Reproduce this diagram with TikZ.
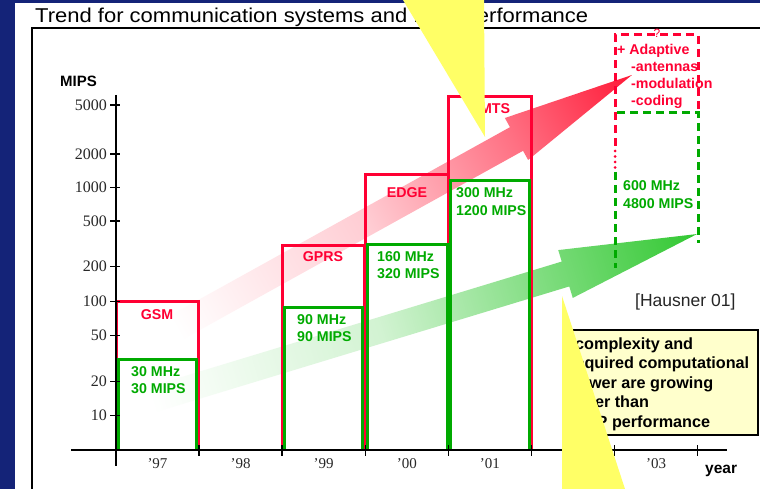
\documentclass[tikz,border=0pt]{standalone}
\usepackage{fontspec}
\setmainfont{Liberation Sans}
\newfontfamily\serifnum{Liberation Serif}
\newfontfamily\titlefont[FakeStretch=1.1]{Liberation Sans}

\definecolor{navy}{RGB}{20,35,120}
\definecolor{trendred}{RGB}{255,0,51}
\definecolor{trendgreen}{RGB}{0,170,0}
\definecolor{arrowred}{RGB}{255,25,55}
\definecolor{arrowgreen}{RGB}{50,200,50}
\definecolor{wedge}{RGB}{255,255,102}
\definecolor{note}{RGB}{255,255,204}
\definecolor{axisnum}{RGB}{40,40,40}

% fades from white at the tail to full colour at the tip
\pgfdeclarehorizontalshading{redtrend}{100bp}{color(0bp)=(white); color(25bp)=(white);
  color(46bp)=(arrowred!22!white); color(62bp)=(arrowred!62!white);
  color(75bp)=(arrowred); color(100bp)=(arrowred)}
\pgfdeclarehorizontalshading{greentrend}{100bp}{color(0bp)=(white); color(25bp)=(white);
  color(46bp)=(arrowgreen!22!white); color(63bp)=(arrowgreen!68!white);
  color(75bp)=(arrowgreen); color(100bp)=(arrowgreen)}

\begin{document}
\begin{tikzpicture}[x=1pt,y=-1pt,
  lbl/.style={inner sep=0, font=\fontsize{14.2}{16}\selectfont\bfseries},
  redlbl/.style={lbl, text=trendred},
  greenlbl/.style={lbl, text=trendgreen, anchor=base west},
  redbar/.style={draw=trendred, line width=3pt},
  greenbar/.style={draw=trendgreen, line width=3pt},
  numlbl/.style={inner sep=0, anchor=base east, text=axisnum, font=\serifnum\fontsize{16}{18}\selectfont},
  yearlbl/.style={inner sep=0, anchor=base, text=axisnum, font=\serifnum\fontsize{15}{18}\selectfont},
  notetxt/.style={inner sep=0, anchor=base west, font=\fontsize{16.2}{18}\selectfont\bfseries}]
\useasboundingbox (0,0) rectangle (760,489);

% slide background
\fill[white] (0,0) rectangle (760,489);
\fill[navy] (0,0) rectangle (15,489);
\fill[navy] (0,0) rectangle (760,3);
\draw[line width=2pt] (32,489) -- (32,28) -- (760,28);
\node[inner sep=0, anchor=base west, font=\titlefont\fontsize{20}{24}\selectfont] (title) at (35,23)
  {Trend for communication systems and DSP performance};

% trend arrows
\begin{scope}[transform canvas={shift={(516.5pt,-139pt)},rotate=29}]
  \shade[shading=redtrend] (-390,-13.5) -- (0,-13.5) -- (0,-24) -- (132,0) -- (0,24) -- (0,13.5) -- (-390,13.5) -- cycle;
\end{scope}
\begin{scope}[transform canvas={shift={(565.5pt,-274pt)},rotate=16.9}]
  \shade[shading=greentrend] (-434,-13) -- (0,-13) -- (0,-25) -- (137.5,0) -- (0,25) -- (0,13) -- (-434,13) -- cycle;
\end{scope}

% systems (red) and their processing needs (green)
\draw[redbar] (116,450) |- (198,301) -- (198,450);
\draw[redbar] (282,450) |- (364,245) -- (364,450);
\draw[redbar] (365,450) |- (448,175) -- (448,450);
\draw[redbar] (448,450) |- (531,97) -- (531,450);
\draw[greenbar] (118,450) |- (196,359) -- (196,450);
\draw[greenbar] (284,450) |- (362,307) -- (362,450);
\draw[greenbar] (367,450) |- (447,244) -- (447,450);
\draw[greenbar] (450,450) |- (529,181) -- (529,450);

% future system
\draw[redbar, dash pattern=on 8pt off 5pt] (615,146) -- (615,35) -- (698,35) -- (698,112);
\draw[redbar, dash pattern=on 0pt off 5.5pt, line cap=round] (615,151) -- (615,168);
\draw[greenbar, dash pattern=on 8pt off 5pt] (617,113) -- (698,113) -- (698,243);
\draw[greenbar, dash pattern=on 8pt off 5pt] (615,172) -- (615,268);

% labels
\node[redlbl, anchor=base] (gsm) at (157,319) {GSM};
\node[greenlbl] (gsmmhz) at (131,376) {30 MHz};
\node[greenlbl] (gsmmips) at (131,393) {30 MIPS};
\node[redlbl, anchor=base] (gprs) at (323,261) {GPRS};
\node[greenlbl] (gprsmhz) at (297,324) {90 MHz};
\node[greenlbl] (gprsmips) at (297,341) {90 MIPS};
\node[redlbl, anchor=base] (edge) at (407,197) {EDGE};
\node[greenlbl] (edgemhz) at (377,261) {160 MHz};
\node[greenlbl] (edgemips) at (377,278) {320 MIPS};
\node[redlbl, anchor=base] (umts) at (490,114) {UMTS};
\node[greenlbl] (umtsmhz) at (456,198) {300 MHz};
\node[greenlbl] (umtsmips) at (456,215) {1200 MIPS};
\node[greenlbl] (nextmhz) at (623,191) {600 MHz};
\node[greenlbl] (nextmips) at (623,208) {4800 MIPS};
\node[inner sep=0, anchor=base, text=trendred, font=\fontsize{12}{14}\selectfont] (unknown) at (657,38) {?};
\node[redlbl, anchor=base west] (adaptive) at (617,55) {+ Adaptive};
\node[redlbl, anchor=base west] (antennas) at (631,72) {-antennas};
\node[redlbl, anchor=base west] (modulation) at (631,89) {-modulation};
\node[redlbl, anchor=base west] (coding) at (631,106) {-coding};

% axes
\draw[line width=1.5pt] (116,95) -- (116,466);
\draw[line width=1.5pt] (71,450) -- (727,450);
\foreach \v/\y in {5000/105,2000/154,1000/187.7,500/221,200/266.7,100/301.7,50/335.7,20/381.7,10/415.7}{
  \draw[line width=1.5pt] (110,\y) -- (120,\y);
  \node[numlbl] at (107,\y+5.2) {\v};
}
\foreach \k in {1,...,7}{
  \draw[line width=1.5pt] (116+83.1*\k,445) -- (116+83.1*\k,456);
}
\foreach \yr [count=\k from 0] in {97,98,99,00,01,02,03}{
  \node[yearlbl] at (157.5+83.1*\k,468) {’\yr};
}
\node[lbl, anchor=base west, font=\fontsize{15}{18}\selectfont\bfseries] (mips) at (60,86.5) {MIPS};
\node[lbl, anchor=base west, font=\fontsize{15.5}{18}\selectfont\bfseries] (year) at (705,473) {year};

\node[inner sep=0, anchor=base west, text=black!85, font=\fontsize{17.5}{20}\selectfont] (ref) at (635,306) {[Hausner 01]};

% statement box
\draw[fill=note, line width=1.5pt] (564,330) rectangle (758,435);
\node[notetxt] (l1) at (575,349) {complexity and};
\node[notetxt] (l2) at (569,368.5) {required computational};
\node[notetxt] (l3) at (569,388) {power are growing};
\node[notetxt] (l4) at (566,407.5) {faster than};
\node[notetxt] (l5) at (574,427) {DSP performance};

% pointer wedges
\fill[wedge] (403,0) -- (484,0) -- (485,137) -- cycle;
\fill[wedge] (562,296) -- (562,489) -- (625,489) -- cycle;
\end{tikzpicture}
\end{document}
